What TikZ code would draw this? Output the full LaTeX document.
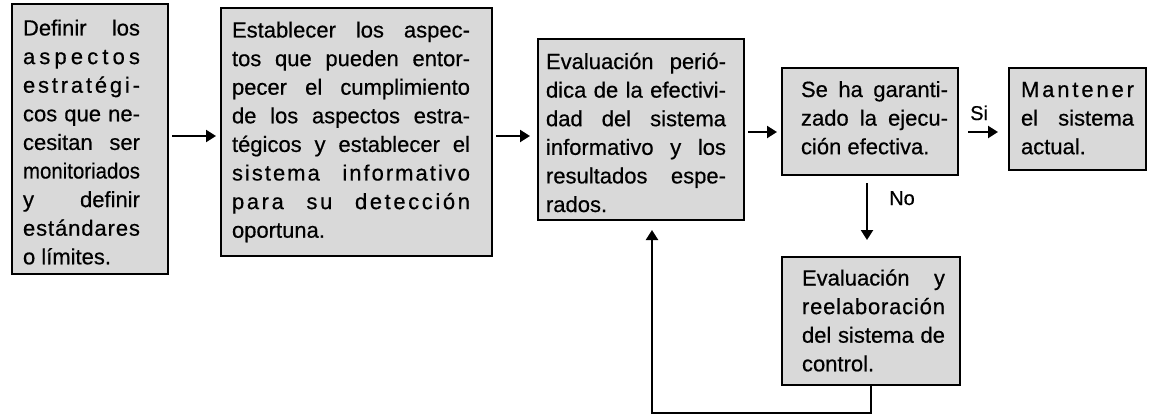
\documentclass[tikz,border=0pt]{standalone}
\usepackage{fontspec}
\setmainfont[FakeBold=0.5]{Liberation Sans}
\usepackage{graphicx}
\usetikzlibrary{arrows.meta}
\definecolor{boxgray}{RGB}{217,217,217}
\newlength\natwd
\newlength\strutht
\setlength\strutht{19pt}
\newcommand\jline[1]{\settowidth\natwd{#1}\ifdim\natwd>\linewidth\resizebox{\linewidth}{\height}{#1}\else\makebox[\linewidth][s]{#1}\fi}
\newcommand\lsline[1]{\settowidth\natwd{#1}\ifdim\natwd>\linewidth\resizebox{\linewidth}{\height}{#1}\else\makebox[\linewidth][s]{#1}\fi}
\newcommand\gp{\hfill}
\newcommand\lk{\kern2pt}
\newcommand\lkk{\kern2.6pt}
% #1 box width, #2 box height, #3 left pad, #4 text width, #5 first baseline, #6 lines
\newcommand\bxt[6]{\parbox[t][#2][t]{#1}{\vspace*{\dimexpr#5-\strutht\relax}\hspace*{#3}\parbox[t]{#4}{\rule{0pt}{\strutht}#6}}}
\tikzset{
  stepbox/.style={draw, line width=2.4pt, fill=boxgray, inner sep=0pt, outer sep=0pt, anchor=north west,
    font=\fontsize{22pt}{28.6pt}\selectfont},
  arr/.style={line width=2.2pt, -{Triangle[length=10pt,width=12pt]}},
  lbl/.style={anchor=base west, inner sep=0pt, font=\fontsize{20pt}{22pt}\selectfont}
}
\begin{document}
\begin{tikzpicture}[x=1pt,y=-1pt]
\useasboundingbox (0,0) rectangle (1152,415);

\node[stepbox] (b1) at (12,4) {\bxt{156pt}{270pt}{11pt}{117pt}{31.5pt}{%
\jline{Definir los}\\
\lsline{a\gp s\gp p\gp e\gp c\gp t\gp o\gp s}\\
\lsline{e\gp s\gp t\gp r\gp a\gp t\gp é\gp g\gp i\gp -}\\
\jline{cos que ne-}\\
\jline{cesitan ser}\\
\jline{monitoriados}\\
\jline{y definir}\\
\lsline{e\gp s\gp t\gp á\gp n\gp d\gp a\gp r\gp e\gp s}\\
o límites.}};

\node[stepbox] (b2) at (221,8) {\bxt{271pt}{248pt}{11pt}{238pt}{29.5pt}{%
\jline{Establecer los aspec-}\\
\jline{tos que pueden entor-}\\
\jline{pecer el cumplimiento}\\
\jline{de los aspectos estra-}\\
\jline{tégicos y establecer el}\\
\jline{s\lk i\lk s\lk t\lk e\lk m\lk a i\lk n\lk f\lk o\lk r\lk m\lk a\lk t\lk i\lk v\lk o}\\
\jline{p\lkk a\lkk r\lkk a s\lkk u d\lkk e\lkk t\lkk e\lkk c\lkk c\lkk i\lkk ó\lkk n}\\
oportuna.}};

\node[stepbox] (b3) at (538,39) {\bxt{206pt}{181pt}{8pt}{180pt}{30pt}{%
\jline{Evaluación perió-}\\
\jline{dica de la efectivi-}\\
\jline{dad del sistema}\\
\jline{informativo y los}\\
\jline{resultados espe-}\\
rados.}};

\node[stepbox] (b4) at (782,68) {\bxt{176pt}{107pt}{19pt}{147pt}{29pt}{%
\jline{Se ha garanti-}\\
\jline{zado la ejecu-}\\
ción efectiva.}};

\node[stepbox] (b5) at (1009,68) {\bxt{137pt}{102pt}{12pt}{113pt}{29pt}{%
\lsline{M\gp a\gp n\gp t\gp e\gp n\gp e\gp r}\\
\jline{el sistema}\\
actual.}};

\node[stepbox] (b6) at (782,257) {\bxt{178pt}{128pt}{20pt}{143pt}{28.5pt}{%
\jline{Evaluación y}\\
\lsline{r\gp e\gp e\gp l\gp a\gp b\gp o\gp r\gp a\gp c\gp i\gp ó\gp n}\\
\jline{del sistema de}\\
control.}};

\coordinate (a1) at (0,136);
\coordinate (a3) at (0,132);
\coordinate (nx) at (867,0);
\coordinate (fb) at (652,413);

\draw[arr, shorten <=4pt, shorten >=5pt] (b1.east |- a1) -- (b2.west |- a1);
\draw[arr, shorten <=4pt, shorten >=8pt] (b2.east |- a1) -- (b3.west |- a1);
\draw[arr, shorten <=4pt, shorten >=5pt] (b3.east |- a3) -- (b4.west |- a3);
\draw[arr, shorten <=10pt, shorten >=11pt] (b4.east |- a3) -- (b5.west |- a3);
\draw[arr, shorten <=8pt, shorten >=17pt] (nx |- b4.south) -- (nx |- b6.north);
\draw[arr, shorten >=10pt] (b6.south) |- (fb) -- (fb |- b3.south);

\node[lbl] (si) at (970,120) {Si};
\node[lbl] (no) at (889,205) {No};
\end{tikzpicture}
\end{document}
